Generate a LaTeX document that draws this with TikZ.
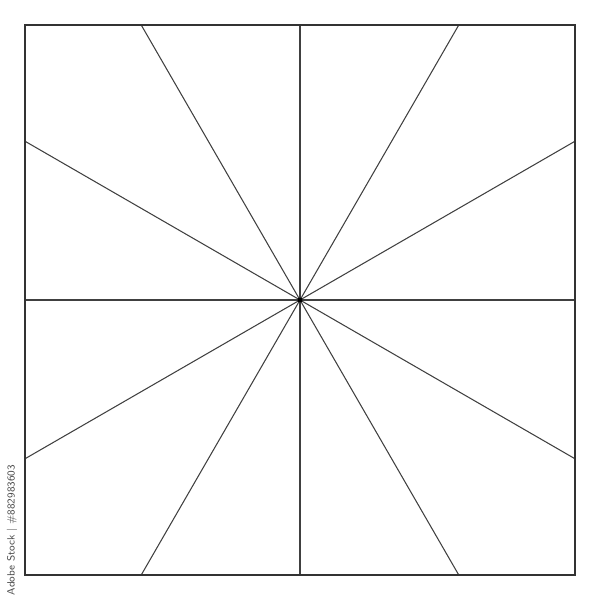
\documentclass[tikz,border=0pt]{standalone}
\usepackage{tikz}

\tikzset{
  ray/.style={draw=black!75, line width=0.3pt},
  frame/.style={draw=black!80, line width=0.4pt},
  stamp/.style={text=black!70, font=\sffamily\fontsize{3.0}{4}\selectfont, inner sep=0pt, rotate=90}
}

\begin{document}
\begin{tikzpicture}
      \useasboundingbox (-3,-3) rectangle (3,3);
      \coordinate (c) at (0,0);
      \coordinate (sw) at (-2.75,-2.75);
      \coordinate (ne) at (2.75,2.75);

      \foreach \a in {0,30,...,330} {
        \pgfmathsetmacro\r{2.75/max(abs(cos(\a)),abs(sin(\a)))}
        \coordinate (e\a) at (\a:\r);
        \path[ray] (c) -- (e\a);
      }
      \draw[frame] (sw) rectangle (ne);
      \fill (c) circle (0.025);

      \node[stamp] (id) at (-2.88,-2.30) {Adobe Stock | \#882983603};
    \end{tikzpicture}
\end{document}
